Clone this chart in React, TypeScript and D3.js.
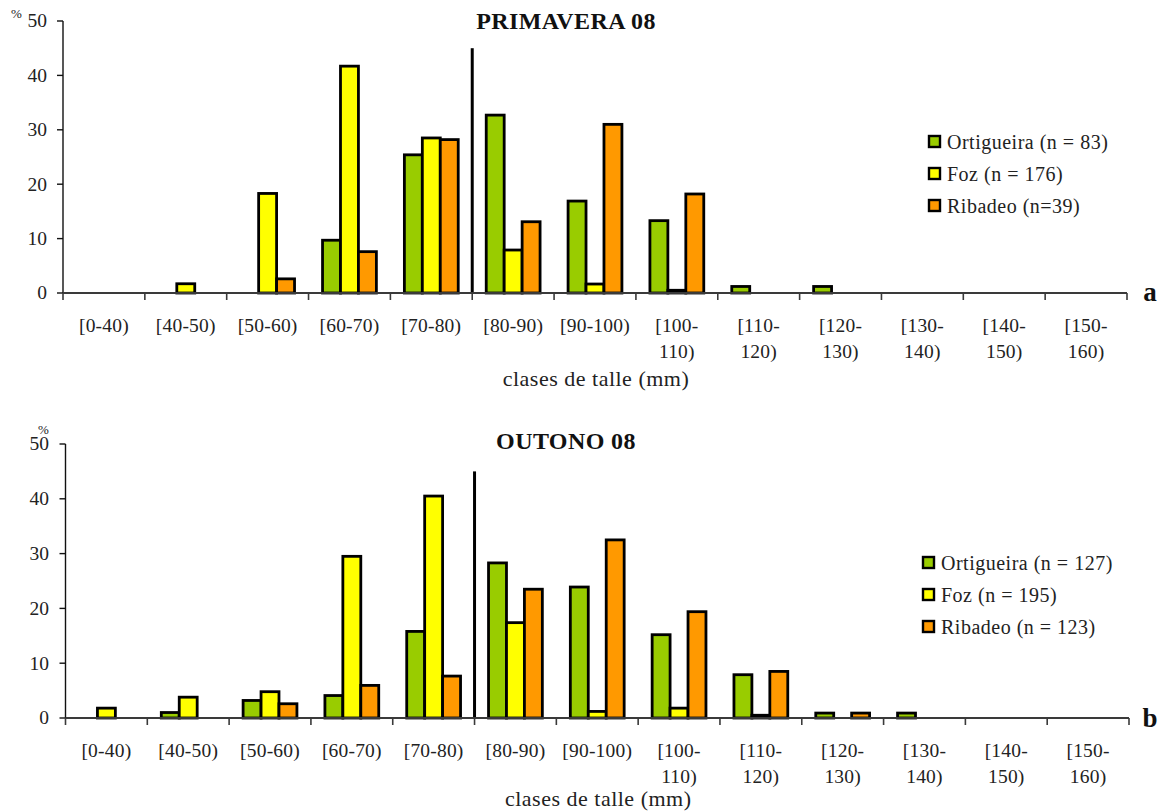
import React from "react";
import * as d3 from "d3";

const categories = ["[0-40)", "[40-50)", "[50-60)", "[60-70)", "[70-80)", "[80-90)", "[90-100)", "[100-110)", "[110-120)", "[120-130)", "[130-140)", "[140-150)", "[150-160)"];
const seriesKeys = ["Ortigueira", "Foz", "Ribadeo"];
const seriesColors = ["#99CC00", "#FFFF00", "#FF9900"];
const yTicks = [0, 10, 20, 30, 40, 50];

const springOrtigueira = [0, 0, 0, 9.7, 25.4, 32.7, 16.9, 13.3, 1.2, 1.2, 0, 0, 0];
const springFoz = [0, 1.7, 18.3, 41.7, 28.5, 7.9, 1.65, 0.5, 0, 0, 0, 0, 0];
const springRibadeo = [0, 0, 2.6, 7.6, 28.2, 13.1, 31.0, 18.2, 0, 0, 0, 0, 0];
const springLegend = ["Ortigueira (n = 83)", "Foz (n = 176)", "Ribadeo (n=39)"];

const autumnOrtigueira = [0, 1.0, 3.2, 4.1, 15.8, 28.3, 23.9, 15.2, 7.9, 0.9, 0.9, 0, 0];
const autumnFoz = [1.8, 3.8, 4.8, 29.5, 40.5, 17.4, 1.2, 1.8, 0.5, 0, 0, 0, 0];
const autumnRibadeo = [0, 0, 2.6, 5.95, 7.65, 23.5, 32.5, 19.4, 8.5, 0.9, 0, 0, 0];
const autumnLegend = ["Ortigueira (n = 127)", "Foz (n = 195)", "Ribadeo (n = 123)"];

const separatorCategory = "[80-90)";
const separatorValue = 45;
const xAxisTitle = "clases de talle (mm)";

const FONT = "'Liberation Serif', 'Times New Roman', serif";

function splitLabel(l: string): string[] {
  if (l.length > 8) {
    const i = l.indexOf("-");
    return [l.slice(0, i + 1), l.slice(i + 1)];
  }
  return [l];
}

type PanelProps = {
  series: number[][];
  legend: string[];
  title: string;
  letter: string;
  x0: number; x1: number; yZero: number; yTop: number;
  titleY: number; legendX: number; legendY: number;
  pctX: number; pctY: number; tickLabelX: number;
  labelY: number; axisTitleY: number; letterY: number;
};

function Panel(p: PanelProps) {
  const x = d3.scaleBand<string>().domain(categories).range([p.x0, p.x1]).padding(0);
  const xi = d3.scaleBand<string>().domain(seriesKeys).range([0, x.bandwidth()]).paddingInner(0).paddingOuter(0.78);
  const y = d3.scaleLinear().domain([0, 50]).range([p.yZero, p.yTop]);
  const boundaries = categories.map((c) => x(c) as number).concat([p.x1]);
  const sepX = x(separatorCategory) as number;
  return (
    <g fontFamily={FONT}>
      {p.series.map((vals, si) =>
        vals.map((v, ci) =>
          v > 0 ? (
            <rect key={`b${si}-${ci}`}
              x={(x(categories[ci]) as number) + (xi(seriesKeys[si]) as number)}
              y={y(v)}
              width={xi.bandwidth()}
              height={p.yZero - y(v)}
              fill={seriesColors[si]} stroke="#000" strokeWidth={2.8} />
          ) : null
        )
      )}
      <line x1={sepX} x2={sepX} y1={y(0) - 1} y2={y(separatorValue)} stroke="#000" strokeWidth={3} />
      <line x1={p.x0} x2={p.x0} y1={p.yTop} y2={p.yZero} stroke="#111" strokeWidth={1.4} />
      {yTicks.map((t) => (
        <g key={`yt${t}`}>
          <line x1={p.x0 - 6} x2={p.x0} y1={y(t)} y2={y(t)} stroke="#111" strokeWidth={1.4} />
          <text x={p.tickLabelX} y={y(t)} dy="0.33em" textAnchor="end" fontSize={19.5} fill="#222">{t}</text>
        </g>
      ))}
      <text x={p.pctX} y={p.pctY} fontSize={13} fill="#222">%</text>
      <line x1={p.x0} x2={p.x1} y1={p.yZero} y2={p.yZero} stroke="#3a3a3a" strokeWidth={1.8} />
      {boundaries.map((b, i) => (
        <line key={`xt${i}`} x1={b} x2={b} y1={p.yZero} y2={p.yZero + 7} stroke="#3a3a3a" strokeWidth={1.6} />
      ))}
      {categories.map((c) => {
        const lines = splitLabel(c);
        const cx = (x(c) as number) + x.bandwidth() / 2;
        return (
          <text key={`xl${c}`} x={cx} y={p.labelY} textAnchor="middle" fontSize={19.5} letterSpacing={0.2} fill="#222">
            {lines.map((l, i) => (
              <tspan key={i} x={cx} dy={i === 0 ? 0 : 26}>{l}</tspan>
            ))}
          </text>
        );
      })}
      <text x={(p.x0 + p.x1) / 2 + 1} y={p.axisTitleY} textAnchor="middle" fontSize={22} letterSpacing={0.5} fill="#222">{xAxisTitle}</text>
      <text x={566} y={p.titleY} textAnchor="middle" fontSize={24} letterSpacing={0.4} fontWeight="bold" fill="#111">{p.title}</text>
      <text x={1150} y={p.letterY} textAnchor="middle" fontSize={27} fontWeight="bold" fill="#111">{p.letter}</text>
      {p.legend.map((l, i) => (
        <g key={`lg${i}`} transform={`translate(${p.legendX},${p.legendY + i * 32})`}>
          <rect x={1} y={-6} width={11} height={11} fill={seriesColors[i]} stroke="#000" strokeWidth={2.4} />
          <text x={19} y={0} dy="0.33em" fontSize={20} letterSpacing={0.5} fill="#222">{l}</text>
        </g>
      ))}
    </g>
  );
}

export default function App() {
  return (
    <svg width={1168} height={812} style={{ position: "absolute", left: 0, top: 0, background: "#fff" }}>
      <rect width={1168} height={812} fill="#fff" />
      <Panel
        series={[springOrtigueira, springFoz, springRibadeo]}
        legend={springLegend}
        title="PRIMAVERA 08" letter="a"
        x0={63} x1={1127} yZero={293} yTop={21}
        titleY={29} legendX={928} legendY={142}
        pctX={11} pctY={18} tickLabelX={47}
        labelY={332} axisTitleY={386} letterY={301}
      />
      <Panel
        series={[autumnOrtigueira, autumnFoz, autumnRibadeo]}
        legend={autumnLegend}
        title="OUTONO 08" letter="b"
        x0={65.5} x1={1129} yZero={718} yTop={444}
        titleY={449} legendX={922} legendY={563}
        pctX={38} pctY={434} tickLabelX={49}
        labelY={757} axisTitleY={806} letterY={727}
      />
    </svg>
  );
}
